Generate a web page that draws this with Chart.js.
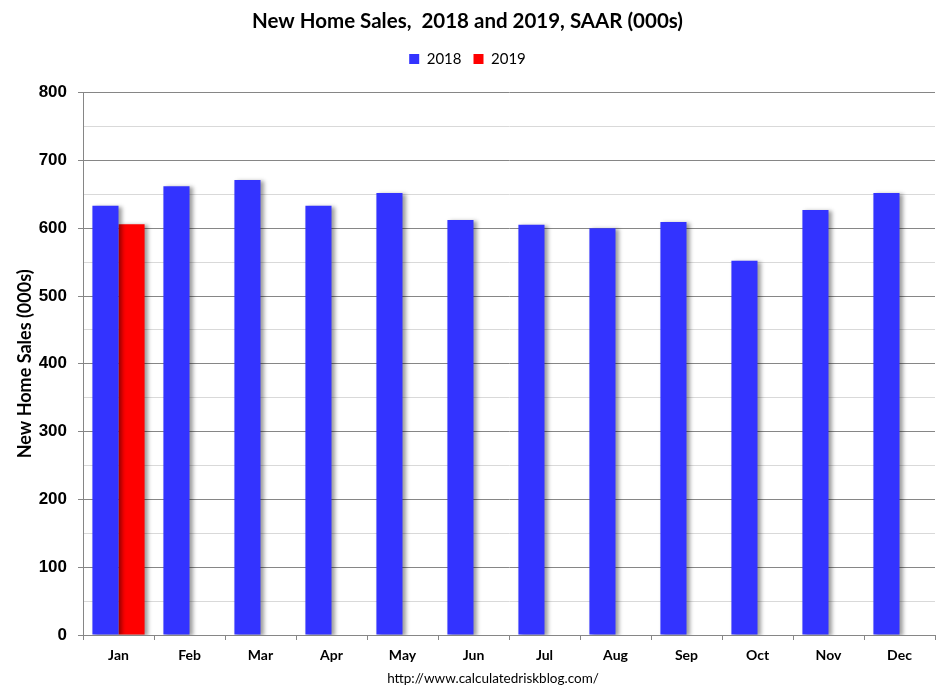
<!DOCTYPE html>
<html>
<head>
<meta charset="utf-8">
<script src="https://cdn.jsdelivr.net/npm/chart.js@4"></script>
<style>
  html, body { margin: 0; padding: 0; background: #fff; }
  #wrap { width: 945px; height: 696px; }
</style>
</head>
<body>
<div id="wrap"><canvas id="c" width="945" height="696"></canvas></div>
<script>
const months = ['Jan','Feb','Mar','Apr','May','Jun','Jul','Aug','Sep','Oct','Nov','Dec'];
const sales2018 = [633, 662, 671, 633, 652, 612, 605, 600, 609, 552, 627, 652];
const sales2019 = [606, null, null, null, null, null, null, null, null, null, null, null];
const seriesNames = ['2018', '2019'];
const chartTitle = 'New Home Sales,  2018 and 2019, SAAR (000s)';
const yAxisTitle = 'New Home Sales (000s)';
const sourceText = 'http://www.calculatedriskblog.com/';

const shadowPlugin = {
  id: 'barShadow',
  beforeDatasetsDraw(chart) {
    const c = chart.ctx;
    c.save();
    c.shadowColor = 'rgba(0,0,0,0.38)';
    c.shadowBlur = 4;
    c.shadowOffsetX = 3;
    c.shadowOffsetY = 1;
  },
  afterDatasetsDraw(chart) { chart.ctx.restore(); }
};

// extra gap below the legend, before the plot area
const legendGapPlugin = {
  id: 'legendGap',
  afterInit(chart) {
    const lg = chart.legend;
    if (!lg) return;
    const fit = lg.fit;
    lg.fit = function () { fit.call(this); this.height += 16; };
  }
};

const sourcePlugin = {
  id: 'sourceText',
  afterDraw(chart) {
    const c = chart.ctx, a = chart.chartArea;
    c.save();
    c.font = '13.5px Lato';
    c.fillStyle = '#000';
    c.textAlign = 'center';
    c.textBaseline = 'middle';
    c.fillText(sourceText, (a.left + a.right) / 2 - 16, a.bottom + 44);
    c.restore();
  }
};

new Chart(document.getElementById('c'), {
  type: 'bar',
  data: {
    labels: months,
    datasets: [
      { label: seriesNames[0], data: sales2018, backgroundColor: '#3333FF', borderWidth: 0 },
      { label: seriesNames[1], data: sales2019, backgroundColor: '#FF0000', borderWidth: 0 }
    ]
  },
  options: {
    responsive: false,
    animation: false,
    devicePixelRatio: 1,
    categoryPercentage: 0.735,
    barPercentage: 1.0,
    layout: { padding: { left: 0, right: 10, top: 0, bottom: 0 } },
    plugins: {
      title: {
        display: true,
        text: chartTitle,
        color: '#000',
        font: { family: 'Lato', size: 20.5, weight: 'bold' },
        padding: { top: 9, bottom: 6 }
      },
      legend: {
        display: true,
        labels: {
          color: '#000',
          font: { family: 'Lato', size: 15 },
          boxWidth: 10,
          boxHeight: 10,
          padding: 12
        }
      },
      tooltip: { enabled: false }
    },
    scales: {
      x: {
        afterFit(scale) { scale.height = 61; },
        grid: {
          display: true,
          drawOnChartArea: false,
          drawTicks: true,
          tickLength: 5,
          color: '#868686',
          offset: true
        },
        border: { display: true, color: '#868686', width: 1 },
        ticks: {
          color: '#000',
          padding: 7,
          font: { family: 'Lato', size: 14, weight: 'bold' }
        }
      },
      y: {
        min: 0,
        max: 800,
        afterFit(scale) { scale.width = 83; },
        title: {
          display: true,
          text: yAxisTitle,
          color: '#000',
          font: { family: 'Lato', size: 18, weight: 'bold' },
          padding: { top: 14, bottom: 0 }
        },
        grid: {
          color: (ctx) => (ctx.tick && ctx.tick.value % 100 === 0) ? '#868686' : '#D9D9D9',
          tickColor: (ctx) => (ctx.tick && ctx.tick.value % 100 === 0) ? '#868686' : 'rgba(0,0,0,0)',
          tickLength: 5,
          lineWidth: 1
        },
        border: { display: true, color: '#868686', width: 1 },
        ticks: {
          stepSize: 50,
          autoSkip: false,
          color: '#000',
          padding: 11,
          font: { family: 'Liberation Sans', size: 17, weight: 'bold' },
          callback: (v) => (v % 100 === 0 ? v : '')
        }
      }
    }
  },
  plugins: [shadowPlugin, legendGapPlugin, sourcePlugin]
});
</script>
</body>
</html>
